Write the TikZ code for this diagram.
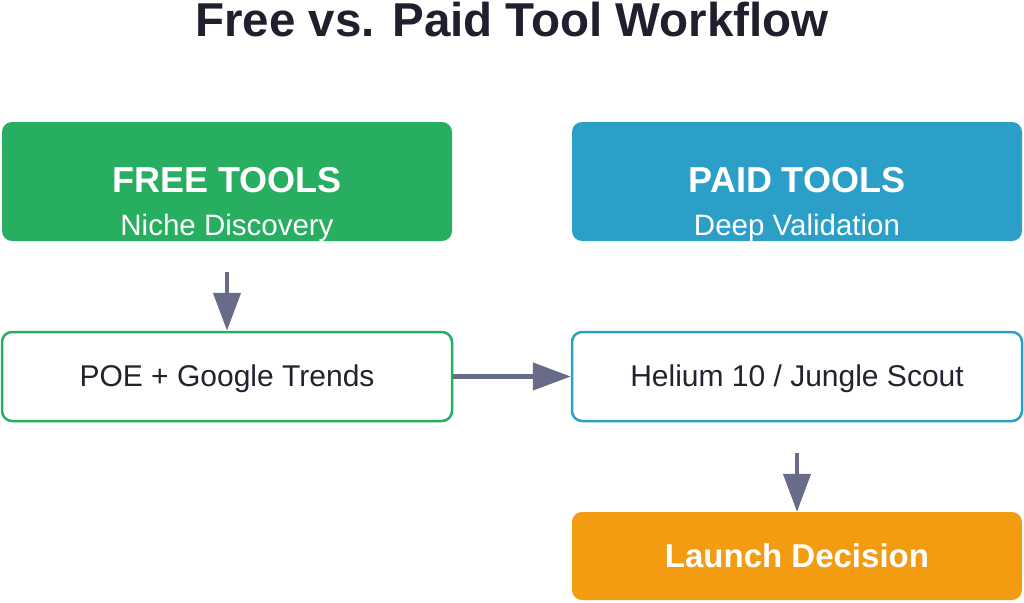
\documentclass[tikz,border=0pt]{standalone}
\usepackage{fontspec}
\setmainfont{Liberation Sans}
\usetikzlibrary{arrows.meta}
\definecolor{freegreen}{HTML}{27AE60}
\definecolor{paidblue}{HTML}{2B9FC7}
\definecolor{launchorange}{HTML}{F39C12}
\definecolor{arrowgray}{HTML}{686C88}
\definecolor{titleink}{HTML}{1F1F2E}
\definecolor{bodyink}{HTML}{222230}
\begin{document}
\begin{tikzpicture}[x=1pt, y=-1pt,
    card/.style={rounded corners=10pt, minimum width=450pt, inner sep=0pt},
    headcard/.style={card, minimum height=119pt},
    toolcard/.style={card, minimum height=89pt, fill=white, line width=2.5pt},
    headtext/.style={anchor=base, text=white, font=\fontsize{36}{40}\selectfont\bfseries},
    subtext/.style={anchor=base, text=white, font=\fontsize{29.5}{34}\selectfont},
    tooltext/.style={anchor=base, text=bodyink, font=\fontsize{30}{34}\selectfont},
    flow/.style={draw=arrowgray, line width=4.5pt, -{Triangle[length=38pt, width=27pt]}}]
    \useasboundingbox (0,0) rectangle (1024,602);
    \node[anchor=base, text=titleink, font=\fontsize{47.5}{52}\selectfont\bfseries] (title) at (512,37) {Free vs. Paid Tool Workflow};
    % header cards
    \node[headcard, fill=freegreen] (free) at (227,181.5) {};
    \node[headcard, fill=paidblue] (paid) at (797,181.5) {};
    \node[headtext] (freehead) at (227,192) {FREE TOOLS};
    \node[subtext] (freesub) at (227,235) {Niche Discovery};
    \node[headtext] (paidhead) at (797,192) {PAID TOOLS};
    \node[subtext] (paidsub) at (797,235) {Deep Validation};
    % tool cards
    \node[toolcard, draw=freegreen] (poe) at (227,376.5) {};
    \node[toolcard, draw=paidblue] (helium) at (797,376.5) {};
    \node[tooltext] (poetext) at (227,386) {POE + Google Trends};
    \node[tooltext] (heliumtext) at (797,386) {Helium 10 / Jungle Scout};
    % outcome
    \node[card, minimum height=88pt, fill=launchorange] (launch) at (797,556) {};
    \node[anchor=base, text=white, font=\fontsize{33}{38}\selectfont\bfseries] (launchtext) at (797,567) {Launch Decision};
    \draw[flow, shorten <=31pt] (free) -- (poe);
    \draw[flow] (poe) -- (helium);
    \draw[flow, shorten <=31pt] (helium) -- (launch);
\end{tikzpicture}
\end{document}
